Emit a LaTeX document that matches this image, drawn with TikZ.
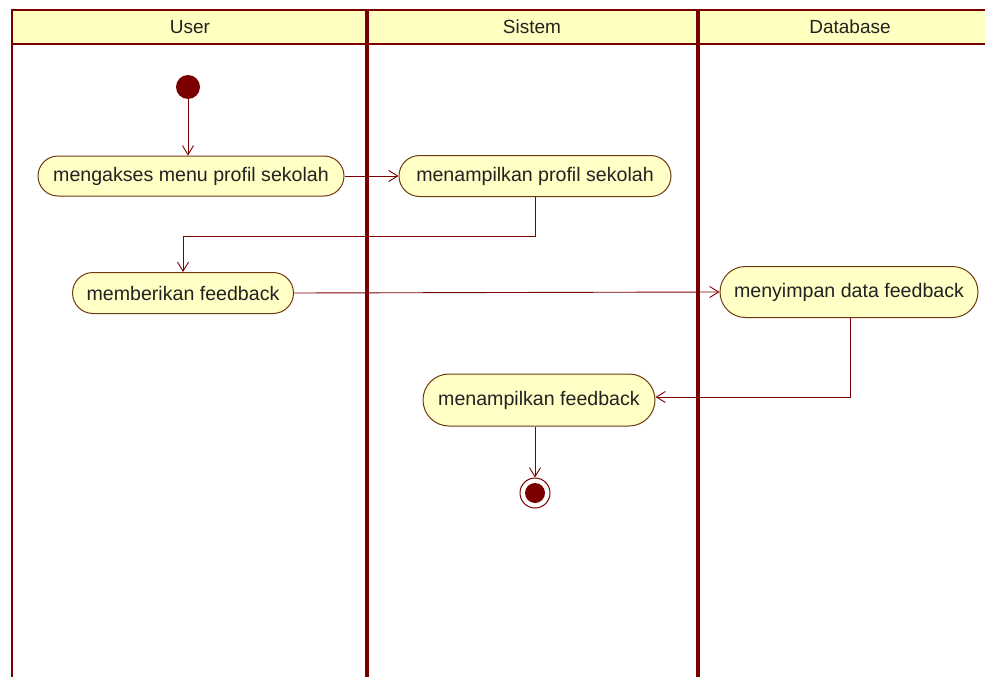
\documentclass[tikz,border=0pt]{standalone}
\usepackage{fontspec}
\setmainfont{Liberation Sans}
\usetikzlibrary{arrows.meta,shapes.misc}
\definecolor{lanec}{HTML}{7A0000}
\definecolor{nodefill}{HTML}{FFFFC6}
\definecolor{headfill}{HTML}{FFFFC0}
\definecolor{nodeborder}{HTML}{6E3A14}
\definecolor{txt}{HTML}{222222}
\begin{document}
\begin{tikzpicture}[x=1pt,y=-1pt,
  act/.style={rounded rectangle, draw=nodeborder, fill=nodefill, line width=1pt,
    text=txt, font=\fontsize{19.6}{22}\selectfont, inner sep=0pt},
  headtxt/.style={text=txt, font=\fontsize{19}{22}\selectfont},
  flow/.style={draw=lanec, line width=0.9pt, -{Straight Barb[length=9pt,width=11pt,line width=0.9pt]}},
  laneline/.style={draw=lanec, line width=3.2pt}]
\useasboundingbox (0,0) rectangle (985,677);
\fill[white] (0,0) rectangle (985,677);
% header
\fill[headfill] (12,10) rectangle (985,44);
\draw[laneline, line width=2.2pt] (11,10) -- (985,10);
\draw[laneline, line width=2.2pt] (11,44) -- (985,44);
\draw[laneline, line width=2.4pt] (12,9) -- (12,677);
\draw[laneline] (367,9) -- (367,677);
\draw[laneline] (698,9) -- (698,677);
\node[headtxt] (hUser) at (190,27) {User};
\node[headtxt] (hSistem) at (532,27) {Sistem};
\node[headtxt] (hDb) at (850,27) {Database};
% nodes
\node[circle, fill=lanec, minimum size=24pt, inner sep=0pt] (start) at (188,87) {};
\node[act, minimum width=306pt, minimum height=40pt] (a1) at (191,176) {mengakses menu profil sekolah};
\node[act, minimum width=272pt, minimum height=41pt] (a2) at (535,176) {menampilkan profil sekolah};
\node[act, minimum width=221pt, minimum height=41pt] (a3) at (183,293) {memberikan feedback};
\node[act, minimum width=258pt, minimum height=51pt] (a4) at (849,292) {menyimpan data feedback};
\node[act, minimum width=232pt, minimum height=52pt] (a5) at (539,400) {menampilkan feedback};
\node[circle, draw=lanec, fill=white, line width=1pt, minimum size=30pt, inner sep=0pt] (end) at (535,493) {};
\fill[lanec] (end.center) circle (10pt);
\coordinate (c1) at (535,236);
\coordinate (c2) at (183,236);
\coordinate (c3) at (850,397);
% connectors
\draw[flow] (start) -- (a1.north -| start);
\draw[flow] (a1.east) -- (a2.west);
\draw[flow] (a2.south) -- (c1) -- (c2) -- (a3.north);
\draw[flow] (a3.east) -- (a4.west);
\draw[flow] (a4.south -| c3) -- (c3) -- (c3 -| a5.east);
\draw[flow] (a5.south -| end) -- (end.north);
\end{tikzpicture}
\end{document}
